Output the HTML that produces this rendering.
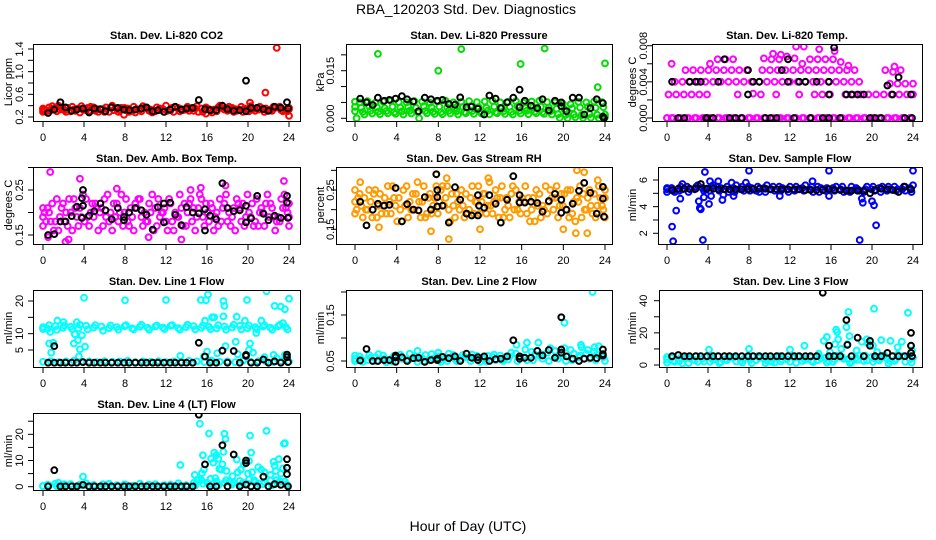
<!DOCTYPE html>
<html><head><meta charset="utf-8"><title>RBA_120203 Std. Dev. Diagnostics</title>
<style>
html,body{margin:0;padding:0;background:#fff;}
svg{display:block;font-family:"Liberation Sans",Arial,sans-serif;}
</style></head>
<body>
<svg id="fig" width="936" height="540" viewBox="0 0 936 540" xmlns="http://www.w3.org/2000/svg">
<rect x="0" y="0" width="936" height="540" fill="#fff"/>
<text x="466" y="14" font-size="14" text-anchor="middle">RBA_120203  Std. Dev. Diagnostics</text>
<text x="468" y="531" font-size="14" text-anchor="middle">Hour of Day (UTC)</text>
</svg>
<script>
// ---- shared data ----
const xTicks = [0,4,8,12,16,20,24];
const hrsK = [0.5,1.1,1.7,2.2,2.8,3.3,3.9,4.5,5.0,5.6,6.1,6.7,7.3,7.9,8.4,9.0,9.6,10.1,10.7,11.2,11.8,12.4,12.9,13.5,14.0,14.6,15.2,15.8,16.3,16.9,17.5,18.0,18.6,19.2,19.8,20.3,20.9,21.5,22.0,22.6,23.2,23.8];

// ---- P1 CO2 ----
const co2A=[.33,.31,.36,.34,.30,.35,.32,.37,.33,.29,.34,.36,.31,.33,.35,.30,.34,.32,.36,.33,.31,.35,.34,.30,.33,.36,.32,.34,.31,.35,.33,.37,.32];
const co2B=[.29,.37,.30,.32,.38,.28,.36,.31,.34,.37,.29,.32,.38,.30,.31,.37,.29,.36,.30,.38,.35,.29,.31,.37,.36,.29,.38,.30,.36,.29,.31,.38,.30];
const co2C=[.35,.32,.40,.29,.33,.39,.31,.34,.29,.40,.32,.35,.28,.39,.33,.32,.40,.29,.34,.31,.39,.32,.28,.40,.31,.34,.29,.39,.33,.35,.38,.32,.34];
const co2D=[.31,.39,.33,.36,.31,.33,.38,.29,.37,.32,.36,.29,.34,.36,.28,.35,.31,.38,.32,.35,.29,.37,.33,.36,.38,.31,.35,.33,.38,.31,.36,.30,.36];
const co2OutX=[7.9,15.9,20.2,21.7,22.8,24.0];
const co2OutY=[.24,.26,.45,.63,1.42,.22];
const co2K=[.27,.33,.46,.37,.31,.33,.35,.28,.35,.34,.30,.37,.36,.33,.32,.33,.35,.37,.30,.32,.29,.33,.38,.33,.35,.36,.50,.34,.32,.32,.40,.34,.31,.32,.30,.36,.36,.34,.31,.38,.36,.46];
const co2KOutX=[19.8,23.9];
const co2KOutY=[.84,.35];

// ---- P2 Pressure ----
const prA=[.0052,.0050,.0054,.0049,.0053,.0055,.0051,.0050,.0054,.0052,.0049,.0053,.0055,.0050,.0052,.0054,.0051,.0053,.0055,.0050,.0052,.0054,.0049,.0053,.0055,.0051,.0050,.0046,.0044,.0052,.0050,.0053,.0051];
const prB=[.0036,.0033,.0038,.0035,.0032,.0037,.0034,.0036,.0033,.0038,.0035,.0037,.0034,.0032,.0036,.0038,.0035,.0033,.0037,.0034,.0036,.0038,.0033,.0035,.0037,.0034,.0030,.0028,.0032,.0034,.0036,.0033,.0035];
const prC=[.0022,.0020,.0024,.0021,.0023,.0019,.0022,.0024,.0020,.0023,.0021,.0019,.0024,.0022,.0020,.0023,.0021,.0024,.0019,.0022,.0020,.0023,.0024,.0021,.0019,.0022,.0013,.0011,.0012,.0010,.0013,.0011,.0012];
const prD=[0,.0012,.0015,.0013,.0016,.0014,.0012,.0015,0,.0016,.0014,.0013,.0015,.0012,.0016,.0014,.0015,.0013,.0016,.0014,.0012,.0015,.0013,.0016,.0014,.0012,.0002,0,.0003,.0001,.0002,0,.0003];
const prOutX=[2.2,8,10.2,15.9,18.2,24,23.3];
const prOutY=[.0203,.0150,.0218,.0171,.0220,.0173,.0098];
const prK=[.0062,.0050,.0042,.0065,.0055,.0058,.0062,.0070,.0060,.0053,.0022,.0065,.0060,.0055,.0058,.0045,.0043,.0066,.0035,.0037,.0030,.0012,.0072,.0062,.0032,.0050,.0065,.0035,.0055,.0040,.0032,.0060,.0025,.0055,.0050,.0022,.0065,.0065,.0012,.0032,.0060,.0048];
const prKOutX=[15.8,23.8,23.9,19.8];
const prKOutY=[.0090,.0005,.0000,.0038];

// ---- P3 Temp ----
const tZero=[0,0,0,0,0,0,0,0,0,0,0,0,0,0,0,0,0,0,0,0,0,0,0,0,0,0,0,0,0,0,0,0,0];
const t40=[null,.004,.004,.004,.004,.004,.004,.004,.004,.004,.004,.004,.004,.004,.004,.004,.004,.004,.004,.004,.004,.004,.004,.004,.004,.004,null,null,null,.0038,.0038,.0038,.0038];
const t26=[.0026,.0026,.0026,.0026,.0026,.0026,null,null,null,.0026,null,.0027,.0026,null,.0026,null,null,.0026,null,.0026,.0026,.0026,null,.0026,.0026,.0026,.0026,.0026,.0026,.0026,.0026,.0026,.0026];
const t53=[null,null,.0053,.0053,.0053,.0053,.0053,.0053,.0053,.0053,.0053,null,.0053,.0053,.0053,.0053,.0053,.0053,.0053,.0053,.0053,.0053,.0053,.0053,.0053,null,null,null,.0053,.0051,.0053,null,null];
const t65=[null,.0060,null,null,null,null,.0060,.0065,.0065,.0065,null,null,null,.0066,.0065,.0065,.0068,.0066,.0060,.0065,.0065,.0065,.0065,.0062,.0058,null,null,null,null,null,.0057,null,null];
const t75=[null,null,null,null,null,null,null,null,null,null,null,null,null,null,.0071,.0070,null,.0079,.0079,null,.0076,null,.0074,null,null,null,null,null,null,null,null,null,null];
const tK=[.004,0,0,.004,.004,.004,0,0,.004,.0065,0,0,0,.0026,.004,.004,0,0,0,.0053,.0065,0,.004,.004,0,.004,0,.0026,.0078,0,.0026,.0026,.0026,.0026,0,0,0,.0036,.0026,.0045,0,.0026];
const tKOutX=[3.8,7.9,15.8,23.9,11.8,15.8];
const tKOutY=[0,.0053,0,0,.004,.004];

// ---- P4 Amb box ----
const abA=[.19,.21,.18,.22,.20,.17,.23,.19,.21,.18,.22,.20,.19,.23,.18,.21,.20,.22,.19,.17,.21,.23,.18,.20,.22,.19,.21,.24,.18,.20,.22,.19,.21];
const abB=[.17,.20,.23,.18,.16,.21,.19,.22,.17,.20,.18,.23,.16,.19,.22,.17,.21,.18,.24,.20,.16,.19,.22,.17,.24,.21,.18,.20,.23,.17,.21,.18,.20];
const abC=[.21,.18,.16,.20,.23,.19,.17,.21,.23,.16,.20,.18,.22,.17,.20,.23,.18,.16,.21,.22,.19,.17,.21,.23,.18,.16,.22,.19,.17,.22,.19,.23,.17];
const abD=[.20,.22,.19,.17,.21,.24,.20,.16,.19,.22,.24,.17,.21,.20,.24,.19,.16,.20,.17,.23,.21,.22,.16,.18,.20,.23,.17,.22,.20,.24,.16,.21,.19];
const abE=[.18,.16,.21,.23,.19,.18,.22,.20,.24,.19,.17,.21,.23,.18,.16,.20,.23,.19,.22,.18,.24,.20,.19,.21,.17,.22,.19,.17,.21,.19,.18,.24,.22];
const abOutX=[0.7,3.6,0.5,2.2,2.5,17.8,23.5,13.5,10.3,7.2,15.4,14.4];
const abOutY=[.29,.275,.145,.135,.14,.26,.27,.14,.145,.253,.255,.25];
const abK=[.150,.152,.180,.180,.192,.213,.250,.193,.203,.220,.205,.185,.210,.190,.200,.210,.205,.195,.162,.212,.220,.222,.195,.172,.212,.200,.198,.207,.193,.185,.265,.210,.203,.205,.215,.187,.237,.197,.183,.193,.188,.237];
const abKOutX=[3.8,3.9,11.8,15.8,19.8,23.8,23.9,3.8,7.9];
const abKOutY=[.232,.215,.178,.160,.178,.222,.188,.188,.183];

// ---- P5 RH ----
const rhA=[.22,.24,.20,.25,.21,.19,.23,.26,.20,.22,.24,.19,.23,.21,.25,.20,.22,.24,.19,.23,.21,.25,.22,.20,.24,.19,.23,.21,.25,.22,.20,.24,.21];
const rhB=[.19,.21,.25,.18,.23,.26,.20,.18,.24,.26,.19,.22,.26,.18,.21,.23,.26,.19,.22,.26,.18,.20,.26,.23,.18,.22,.26,.24,.19,.26,.23,.18,.20];
const rhC=[.25,.18,.22,.21,.19,.23,.17,.22,.27,.18,.21,.25,.20,.24,.18,.26,.19,.21,.25,.18,.24,.22,.19,.17,.21,.25,.18,.20,.22,.18,.25,.21,.23];
const rhD=[.20,.23,.18,.24,.26,.21,.25,.20,.22,.19,.23,.26,.17,.22,.24,.19,.22,.27,.23,.20,.26,.19,.23,.25,.20,.23,.21,.25,.17,.24,.21,.26,.18];
const rhE=[.23,.20,.24,.19,.22,.17,.21,.24,.18,.23,.26,.21,.24,.20,.19,.22,.24,.21,.18,.23,.20,.23,.17,.21,.26,.20,.24,.18,.23,.20,.19,.23,.25];
const rhOutX=[0.5,7.8,8.8,12.8,21.3,22.0,23.3,9,21.2,22.3,7.3,12,20,2.3];
const rhOutY=[.27,.29,.28,.28,.30,.295,.275,.125,.14,.14,.145,.15,.15,.155];
const rhK=[.22,.16,.20,.215,.21,.212,.255,.17,.214,.20,.198,.232,.20,.208,.21,.167,.257,.225,.19,.185,.237,.205,.237,.215,.167,.225,.285,.218,.218,.22,.217,.195,.222,.24,.192,.20,.215,.248,.268,.243,.19,.258];
const rhKOutX=[7.8,7.9,7.9,11.8,11.9,15.8,19.8,23.9,23.8];
const rhKOutY=[.29,.25,.232,.185,.21,.237,.225,.182,.228];

// ---- P6 Sample flow ----
const sfA=[5.3,5.4,5.2,5.5,5.3,5.4,5.2,5.5,5.3,5.4,5.3,5.5,5.2,5.4,5.3,5.5,5.3,5.2,5.4,5.3,5.5,5.2,5.4,5.3,5.2,5.4,5.1,5.3,5.4,5.2,5.5,5.3,5.4];
const sfB=[5.1,5.2,5.5,5.1,5.5,5.2,5.5,5.2,5.5,5.1,5.5,5.2,5.5,5.1,5.5,5.2,5.1,5.5,5.2,5.5,5.1,5.4,5.2,5.5,5.1,5.3,5.3,5.5,5.1,5.5,5.2,5.5,5.1];
const sfC=[5.4,5.1,5.3,5.3,5.6,5.3,5.6,5.4,5.1,5.6,5.2,5.4,5.1,5.6,5.2,5.4,5.5,5.3,5.6,5.1,5.4,5.3,5.5,5.1,5.5,5.2,5.5,5.2,5.5,5.3,5.3,5.2,5.6];
const sfOutX=[0.5,0.6,0.9,1.3,1.5,3.1,3.2,3.3,3.5,3.6,3.7,4.1,4.2,5.4,6.3,7.7,8,15.8,14.2,18.8,19.0,19.1,20,20.2,20.4,24,4.3,5.0,5.5,6.5,11,15.8];
const sfOutY=[2.5,1.4,3.7,4.6,5.7,4.4,3.9,3.8,1.5,4.7,6.6,4.2,5.9,4.5,5.8,5.8,6.7,6.7,5.9,1.5,4.6,4.3,4.4,4.1,2.6,6.7,4.8,5.9,4.9,4.8,4.8,4.8];
const sfK=[5.25,5.35,5.35,5.35,5.35,5.7,5.35,5.35,5.3,5.3,5.3,5.3,5.3,5.3,5.3,5.35,5.35,5.3,5.3,5.3,5.3,5.3,5.3,5.25,5.25,5.25,5.25,5.3,5.25,5.25,5.2,5.2,5.2,5.2,5.0,5.25,5.35,5.3,5.25,5.1,5.5,5.3];

// ---- P7 Line 1 ----
const l1A=[12.0,11.5,12.3,11.8,12.1,11.6,12.4,11.9,12.2,11.7,12.0,12.3,11.6,12.1,11.8,12.2,11.9,12.4,11.7,12.0,12.3,11.8,12.1,11.6,12.2,11.9,12.4,11.7,12.0,12.2,11.8,12.3,12.0];
const l1B=[11.4,12.6,11.2,12.5,11.4,12.7,11.3,12.6,10.9,12.5,11.2,12.6,11.3,12.7,11.2,12.5,11.4,12.6,11.2,12.7,11.3,12.5,11.4,12.6,11.2,12.7,11.3,12.5,11.4,12.6,11.2,12.7,11.3];
const l1C=[1.4,1.6,1.3,1.5,1.7,1.4,1.5,1.3,1.6,1.4,1.5,1.7,1.3,1.5,1.4,1.6,1.3,1.5,1.4,1.7,1.5,1.3,1.6,1.4,1.5,1.3,1.7,1.4,1.6,1.5,1.3,1.6,1.4];
const l1OutX=[0.6,0.8,0.7,1.0,1.4,3,3.1,3.3,3.4,3.6,3.5,3.8,4.0,4.1,8,12,13.4,15.4,15.9,16.1,15.8,16.5,16.7,17.6,17.7,17.6,17.8,18.8,18.9,19.7,19.9,20.2,20.1,20.5,20.8,21.3,21.8,22.6,23.2,23.6,23.4,24,21.6,22.5,16,17,23.6,2,15.7,16.4,19,22.8];
const l1OutY=[7,4.2,10.5,7.2,14,7,9.8,13.5,8,5.2,3,9.5,21,6,20.2,20.3,3.2,20.3,20.2,22,14,15,15,20,18.5,15.3,6.2,7.5,15.2,14,20.3,7,5,4.2,10.2,14,23,18.5,18.3,17.5,13.2,20.7,2.8,3.5,4.5,4,3.5,13.5,3,1.8,3.7,2.5];
const l1K=[1.1,6.2,1.1,1.1,1.1,1.1,1.3,1.1,1.1,1.1,1.1,1.1,1.1,1.1,1.1,1.1,1.1,1.1,1.1,1.1,1.1,1.1,1.1,1.1,1.1,1.1,7.2,3.0,1.1,1.1,4.8,1.1,4.7,1.1,3.5,1.1,1.1,2.1,1.1,1.5,1.1,3.6];
const l1KOutX=[19.8,23.8,23.9,1.1];
const l1KOutY=[3.2,2.8,1.3,1.1];

// ---- P8 Line 2 ----
const l2A=[.055,.060,.052,.058,.062,.054,.059,.053,.061,.056,.052,.060,.057,.063,.054,.058,.061,.055,.059,.062,.053,.066,.058,.070,.062,.068,.072,.060,.074,.058,.066,.070,.062];
const l2B=[.050,.054,.063,.050,.055,.049,.064,.051,.056,.049,.065,.052,.050,.055,.063,.050,.054,.049,.064,.052,.060,.050,.075,.052,.065,.050,.060,.078,.052,.062,.074,.052,.058];
const l2C=[.062,.048,.057,.065,.047,.061,.055,.066,.048,.063,.055,.048,.066,.050,.058,.064,.048,.061,.052,.050,.068,.058,.052,.064,.055,.078,.055,.050,.066,.080,.055,.064,.050];
const l2OutX=[22.8,20.1,15.5,16.5,17.6,21.7,23,23.4,6,8];
const l2OutY=[.20,.133,.085,.09,.09,.085,.08,.082,.072,.068];
const l2K=[.051,.076,.05,.05,.052,.052,.058,.058,.05,.056,.057,.048,.052,.055,.059,.056,.06,.05,.066,.057,.058,.06,.05,.054,.055,.06,.095,.06,.057,.057,.072,.062,.074,.057,.145,.06,.055,.05,.055,.057,.056,.065];
const l2KOutX=[3.9,3.9,7.9,11.8,15.8,19.8,19.8,23.8,23.8];
const l2KOutY=[.062,.048,.052,.052,.055,.075,.068,.075,.062];

// ---- P9 Line 3 ----
const l3A=[3.5,4.5,2.5,5,3,4,2,5.5,3.5,4.5,2.5,5,3,4,2,5.5,3.5,4.5,2.5,5,3,4.5,2,5.5,3.5,4.5,2.5,5,3,4,2.5,5.5,3.5];
const l3B=[1.5,2.5,4.5,1.2,5.5,2.2,4.2,1.2,3.0,5.2,1.5,3.2,5.5,1.2,4.2,2.2,5.3,1.3,4.0,2.5,5.5,1.5,3.5,4.8,1.2,3.2,5.8,2.0,4.2,1.0,3.8,5.2,1.5];
const l3C=[5,2,1,4,2,5,3.2,1.8,4.8,2.2,3.8,1.2,4.5,2.8,1.5,3.5,2,5.5,3.2,1.8,4.2,2.8,5.8,3.8,1.8,6,2.8,4,5.2,2.5,6.5,2,4.5];
const l3OutX=[4.1,8,12,13.4,14.8,15.3,15.6,16.5,16.6,16.7,16.4,17.5,17.7,17.8,17.6,18.5,19.0,19.5,19.6,20.2,20.1,20.9,21.8,22.5,22.9,23.5,23.8,23.9,15.9,17.0,16.9,20.5,21.2];
const l3OutY=[9.5,10,9.5,12,7,15,17.5,22,20.5,16,13,23.5,33,18,13,9,14.5,16,13.5,35,12,15.5,15,11,14.5,32.5,12,9,8,10,5,8,6];
const l3K=[5.5,6.2,5.5,5.5,5.5,5.5,5.5,5.5,5.5,5.5,5.5,5.5,5.5,5.5,5.5,5.5,5.5,5.5,5.5,5.5,5.5,5.5,5.5,5.5,5.5,5.5,45,12,5.5,5.5,28,5.5,17,5.5,15,5.5,5.5,7.5,5.5,5.5,5.5,20];
const l3KOutX=[19.8,23.8,23.8,23.9,15.8,17.6,20.3];
const l3KOutY=[12,12,7.5,5.5,5.5,12.5,5.5];

// ---- P10 Line 4 ----
const l4A=[.3,.8,1.2,.5,1.0,.4,1.3,.7,.2,1.1,.6,.9,.3,1.2,.5,1.0,.4,.8,1.3,.6,1.5,2.5,1.0,2.0,1.5,.8,2.2,1.2,1.8,1.0,2.4,1.5,1.0];
const l4B=[.1,.5,.2,1.0,.2,.8,.3,.2,.9,.3,.2,.7,.4,.1,.8,.3,.6,.2,.3,.1,.4,1.2,3.0,.5,2.5,1.5,.6,2.8,.4,1.8,.5,2.0,.6];
const l4OutX=[1.5,3.9,13.4,14.8,15.3,15.5,15.7,15.6,16.2,16.4,16.6,16.7,16.9,16.8,17.1,17.2,17.4,17.6,17.7,17.8,17.5,17.9,18.2,18.5,18.9,19.0,19.3,19.6,20,20.1,20.2,20.3,20.4,20.6,21,21.3,21.6,21.8,22.2,22.5,22.6,22.7,23,23.2,23.4,23.5,23.6,22.8,23.6,21,19.5,15.0,15.2,16];
const l4OutY=[1.5,3.8,8.3,4.5,24,5.2,6.5,12,20.3,10.7,9.2,13,12,3.3,10.7,6.8,6.5,13.3,20.2,18.2,8.5,6,2,4,10.4,5.5,6.5,8.5,5,9.8,19.5,13,5.5,2.5,7.5,6.5,5.5,21.3,4.5,9.5,8,6,10.5,5,7,16.4,16.6,2.5,2,1.3,1.5,2.5,2.8,1.5];
const l4K=[.1,6.3,.1,.1,.1,.1,.7,.1,.1,.1,.1,.1,.1,.1,.1,.1,.1,.1,.1,.1,.1,.1,.1,.1,.1,.1,27.5,8.5,.1,.1,15.8,.1,12.3,.1,10,.1,.1,3.8,.1,1,.7,10.5];
const l4KOutX=[19.8,19.8,23.8,23.8,23.9];
const l4KOutY=[9,.8,7.2,4.8,.1];

// ---- panel layout (positions, not data) ----
const panels = [
 {name:'co2',title:'Stan. Dev. Li-820 CO2',ylab:'Licor ppm',col:0,row:0,l:33,r:300,x0:43,x24:289,ya:[0.2,117],yb:[1.4,49],ticks:[0.2,0.4,0.6,0.8,1.0,1.2,1.4],labs:['0.2','0.6','1.0','1.4'],labVals:[0.2,0.6,1.0,1.4],color:'#ff0000',clouds:[co2A,co2B,co2C,co2D],outX:co2OutX,outY:co2OutY,k:co2K,kOutX:co2KOutX,kOutY:co2KOutY},
 {name:'pressure',title:'Stan. Dev. Li-820 Pressure',ylab:'kPa',col:1,row:0,l:346,r:612,x0:355,x24:605,ya:[0,118.3],yb:[0.015,70.7],ticks:[0,0.005,0.01,0.015,0.02],labs:['0.000','0.015'],labVals:[0,0.015],color:'#00dd00',clouds:[prA,prB,prC,prD],outX:prOutX,outY:prOutY,k:prK,kOutX:prKOutX,kOutY:prKOutY},
 {name:'temp',title:'Stan. Dev. Li-820 Temp.',ylab:'degrees C',col:2,row:0,l:652,r:922,x0:667,x24:913,ya:[0,118],yb:[0.008,45.7],ticks:[0,0.002,0.004,0.006,0.008],labs:['0.000','0.004','0.008'],labVals:[0,0.004,0.008],color:'#ff00ff',clouds:[tZero,tZero,t40,t26,t53,t65,t75],outX:[],outY:[],k:tK,kOutX:tKOutX,kOutY:tKOutY},
 {name:'amb-box-temp',title:'Stan. Dev. Amb. Box Temp.',ylab:'degrees C',col:0,row:1,l:33,r:300,x0:43,x24:289,ya:[0.15,235],yb:[0.25,190],ticks:[0.15,0.2,0.25,0.3],labs:['0.15','0.25'],labVals:[0.15,0.25],color:'#ff00ff',clouds:[abA,abB,abC,abD,abE],outX:abOutX,outY:abOutY,k:abK,kOutX:abKOutX,kOutY:abKOutY},
 {name:'gas-stream-rh',title:'Stan. Dev. Gas Stream RH',ylab:'percent',col:1,row:1,l:336,r:612,x0:355,x24:605,ya:[0.15,229.3],yb:[0.25,190],ticks:[0.15,0.2,0.25,0.3],labs:['0.15','0.25'],labVals:[0.15,0.25],color:'#ff9a00',clouds:[rhA,rhB,rhC,rhD,rhE],outX:rhOutX,outY:rhOutY,k:rhK,kOutX:rhKOutX,kOutY:rhKOutY},
 {name:'sample-flow',title:'Stan. Dev. Sample Flow',ylab:'ml/min',col:2,row:1,l:658,r:922,x0:667,x24:913,ya:[2,233.3],yb:[6,180],ticks:[2,3,4,5,6],labs:['2','4','6'],labVals:[2,4,6],color:'#0000ff',clouds:[sfA,sfB,sfC],outX:sfOutX,outY:sfOutY,k:sfK,kOutX:[],kOutY:[]},
 {name:'line1-flow',title:'Stan. Dev. Line 1 Flow',ylab:'ml/min',col:0,row:2,l:33,r:300,x0:43,x24:289,ya:[5,350],yb:[20,301],ticks:[5,10,15,20],labs:['5','10','20'],labVals:[5,10,20],color:'#00ffff',clouds:[l1A,l1B,l1C],outX:l1OutX,outY:l1OutY,k:l1K,kOutX:l1KOutX,kOutY:l1KOutY},
 {name:'line2-flow',title:'Stan. Dev. Line 2 Flow',ylab:'ml/min',col:1,row:2,l:346,r:612,x0:355,x24:605,ya:[0.05,361],yb:[0.15,315],ticks:[0.05,0.1,0.15,0.2],labs:['0.05','0.15'],labVals:[0.05,0.15],color:'#00ffff',clouds:[l2A,l2B,l2C],outX:l2OutX,outY:l2OutY,k:l2K,kOutX:l2KOutX,kOutY:l2KOutY},
 {name:'line3-flow',title:'Stan. Dev. Line 3 Flow',ylab:'ml/min',col:2,row:2,l:659,r:922,x0:667,x24:913,ya:[0,365],yb:[40,300.7],ticks:[0,10,20,30,40],labs:['0','20','40'],labVals:[0,20,40],color:'#00ffff',clouds:[l3A,l3B,l3C],outX:l3OutX,outY:l3OutY,k:l3K,kOutX:l3KOutX,kOutY:l3KOutY},
 {name:'line4-flow',title:'Stan. Dev. Line 4 (LT) Flow',ylab:'ml/min',col:0,row:3,l:33,r:300,x0:43,x24:289,ya:[0,486.7],yb:[20,434.3],ticks:[0,5,10,15,20,25],labs:['0','10','20'],labVals:[0,10,20],color:'#00ffff',clouds:[l4A,l4B],outX:l4OutX,outY:l4OutY,k:l4K,kOutX:l4KOutX,kOutY:l4KOutY}
];
const rowTops=[44,167,290,413];
const labX=[20,331,644], titX=[9,321,633];
const NS='http://www.w3.org/2000/svg';
const svg=document.getElementById('fig');
function mk(tag,attrs,parent){const e=document.createElementNS(NS,tag);for(const k in attrs)e.setAttribute(k,attrs[k]);(parent||svg).appendChild(e);return e;}

panels.forEach(p=>{
  const t=rowTops[p.row], b=t+77;
  const g=mk('g',{});
  
  
  const xs=h=>p.x0+(p.x24-p.x0)*h/24;
  const ys=v=>p.ya[1]+(p.yb[1]-p.ya[1])*(v-p.ya[0])/(p.yb[0]-p.ya[0]);
  const cid='clip-'+p.name;
  const cp=mk('clipPath',{id:cid},g);
  mk('rect',{x:p.l,y:t,width:p.r-p.l,height:77},cp);
  const marks=mk('g',{'clip-path':'url(#'+cid+')',fill:'none','stroke-width':'2'},g);
  
  
  function pt(h,v,col,nm){
    if(v===null||v===undefined)return;
    const c=mk('circle',{cx:xs(h).toFixed(1),cy:ys(v).toFixed(1),r:2.9,stroke:col},marks);
    
    
  }
  p.clouds.forEach((arr,k)=>{
    const n=arr.length;
    arr.forEach((v,i)=>{let h=i*24/(n-1)+((k%5)-2)*0.15; if(h<0)h=0; if(h>24)h=24; pt(h,v,p.color,'point');});
  });
  p.outX.forEach((h,i)=>pt(h,p.outY[i],p.color,'outlier-point'));
  p.k.forEach((v,i)=>pt(hrsK[i],v,'#000','black-point'));
  p.kOutX.forEach((h,i)=>pt(h,p.kOutY[i],'#000','black-point'));
  const bx=mk('rect',{x:p.l+0.5,y:t+0.5,width:p.r-p.l,height:77,fill:'none',stroke:'#000','stroke-width':1},g);
  
  
  const tt=mk('text',{x:(p.l+p.r)/2,y:t-5,'font-size':11,'font-weight':'bold','text-anchor':'middle'},g);
  tt.textContent=p.title;
  
  
  xTicks.forEach(h=>{
    const X=xs(h);
    mk('line',{x1:X,y1:b+1,x2:X,y2:b+6,stroke:'#000'},g);
    const tl=mk('text',{x:X,y:b+20,'font-size':11,'text-anchor':'middle'},g);
    tl.textContent=String(h);
    
    
  });
  p.ticks.forEach(v=>{const Y=ys(v);mk('line',{x1:p.l-5,y1:Y,x2:p.l,y2:Y,stroke:'#000'},g);});
  p.labVals.forEach((v,i)=>{
    const Y=ys(v), X=labX[p.col];
    const tl=mk('text',{x:X,y:Y,'font-size':11,'text-anchor':'middle','dominant-baseline':'central',transform:'rotate(-90 '+X+' '+Y+')'},g);
    tl.textContent=p.labs[i];
    
    
  });
  const X=titX[p.col], Y=t+38;
  const yl=mk('text',{x:X,y:Y,'font-size':11,'text-anchor':'middle','dominant-baseline':'central',transform:'rotate(-90 '+X+' '+Y+')'},g);
  yl.textContent=p.ylab;
  
  
});
</script>
</body></html>
